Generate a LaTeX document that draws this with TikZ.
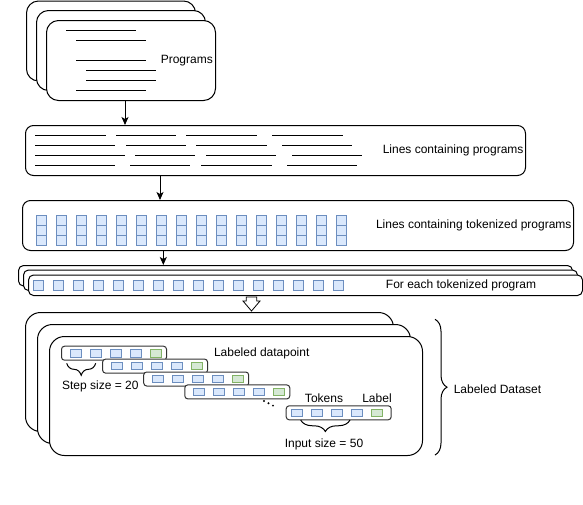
\documentclass[tikz,border=0pt]{standalone}
\usepackage{fontspec}
\setmainfont{Liberation Sans}
\usetikzlibrary{positioning,arrows.meta,decorations.pathreplacing}
\definecolor{tokfill}{HTML}{DAE8FC}
\definecolor{tokline}{HTML}{6C8EBF}
\definecolor{labfill}{HTML}{D5E8D4}
\definecolor{labline}{HTML}{82B366}

\begin{document}
\begin{tikzpicture}[x=1pt, y=-1pt, line width=1pt, >={Stealth[length=8pt,width=7pt,inset=2pt]},
  every node/.style={inner sep=0pt, font=\fontsize{12pt}{14pt}\selectfont},
  card/.style={draw, fill=white, anchor=north west, rounded corners=12pt, minimum width=169pt, minimum height=80pt},
  panel/.style={draw, fill=white, anchor=north west, rounded corners=8pt, minimum height=50pt},
  strip/.style={draw, fill=white, anchor=north west, rounded corners=5pt, minimum width=554pt, minimum height=20.5pt},
  sheet/.style={draw, fill=white, anchor=north west, rounded corners=15pt, minimum width=373pt, minimum height=119pt},
  dp/.style={draw=black!80, fill=white, anchor=north west, rounded corners=3pt, minimum width=105pt, minimum height=14pt},
  tok/.style={draw=tokline, fill=tokfill, line width=0.9pt, anchor=north west, minimum size=10pt},
  tokbar/.style={draw=tokline, fill=tokfill, line width=0.9pt, anchor=west, minimum width=11pt, minimum height=7.5pt},
  labbar/.style={tokbar, draw=labline, fill=labfill}]
\useasboundingbox (0,0) rectangle (583,504);

\node[card] (p1) at (26,0.5) {};
\node[card] (p2) at (36,10) {};
\node[card] (p3) at (46,20) {};
\foreach \x/\y in {66/30, 76/40, 76/60, 86/70, 86/80, 76/90}
  \draw (\x,\y) -- ++(70,0);
\node[left=2.7pt of p3.east] (ptxt) {Programs};

\node[panel, minimum width=500pt] (l1) at (25,125) {};
\foreach \y/\a/\b in {135/35/106, 135/116/176, 135/186/257, 135/272/343,
                      145/35/115, 145/126/186, 145/196/267, 145/282/352,
                      155/35/125, 155/135/195, 155/206/276, 155/292/362,
                      165/35/115, 165/130/190, 165/201/272, 165/287/357}
  \draw (\a,\y) -- (\b,\y);
\node[left=2pt of l1.east] (ltxt) {Lines containing programs};

\node[panel, minimum width=551pt] (t1) at (22,200) {};
\foreach \i in {0,...,15}
  \foreach \j in {0,1,2}
    \node[tok] (k\i-\j) at ({35.7+20*\i},{215+10*\j}) {};
\node[left=2pt of t1.east] (ttxt) {Lines containing tokenized programs};

\node[strip] (s1) at (18,265) {};
\node[strip] (s2) at (23,269.5) {};
\node[strip] (s3) at (28,274.5) {};
\foreach \i in {0,...,15}
  \node[tok] (f\i) at ({33.3+20*\i},280) {};
\node (ftxt) at (461,285) {For each tokenized program};

\coordinate (a1) at (125,0);
\coordinate (a2) at (160,0);
\coordinate (a3) at (163.3,0);
\draw[->] (a1 |- p3.south) -- (a1 |- l1.north);
\draw[->] (a2 |- l1.south) -- (a2 |- t1.north);
\draw[->] (a3 |- t1.south) -- (a3 |- s1.north);

\node[sheet, minimum width=368pt] (d1) at (25,312) {};
\node[sheet] (d2) at (37,324) {};
\node[sheet] (d3) at (49,336) {};

\coordinate (h) at (251.5,297);
\draw[fill=white, line width=0.8pt] ([xshift=-5.3pt]h) -- ++(10.6,0) -- ++(0,4) -- ++(3.2,0)
  -- ++(-8.5,10) -- ++(-8.5,-10) -- ++(3.2,0) -- cycle;

\foreach \i/\x/\y/\o in {1/61/345.7/8.5, 2/102.1/358.6/8.5, 3/143.2/371.5/8.5, 4/184.3/384.4/8.5, 5/285.7/405.3/5}{
  \node[dp] (dp\i) at (\x,\y) {};
  \foreach \j in {0,...,3}
    \node[tokbar] (dp\i-\j) at ([xshift={\o+20*\j}]dp\i.west) {};
  \node[labbar] (dp\i-4) at ([xshift={\o+80}]dp\i.west) {};
}
\foreach \d in {0,1,2}
  \fill ({264+4.5*\d},{401+2.3*\d}) circle (1.1);

\node[right=46.5pt of dp1] (dptxt) {Labeled datapoint};
\draw[decorate, decoration={brace, mirror, amplitude=12pt}] (66.7,363.3) -- (95.7,363.3);
\node (steptxt) at (100.3,386) {Step size = 20};
\node (toktxt) at (324,398.7) {Tokens};
\node (labtxt) at (377,398.7) {Label};
\draw[decorate, decoration={brace, mirror, amplitude=11.5pt}] (300.7,420) -- (350,420);
\node (intxt) at (324,444.5) {Input size = 50};

\draw[decorate, decoration={brace, amplitude=12pt}] (435,319.3) -- (435,455);
\node (dstxt) at (497.5,389) {Labeled Dataset};
\end{tikzpicture}
\end{document}
